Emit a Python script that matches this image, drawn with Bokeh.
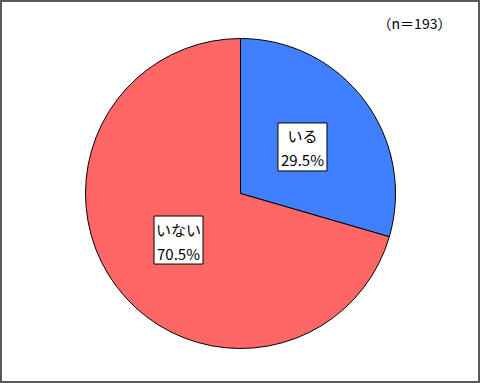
import math
from bokeh.plotting import figure
from bokeh.models import Range1d, ColumnDataSource
from bokeh.core.properties import value
from bokeh.embed import file_html
from bokeh.resources import INLINE

categories = ["いる", "いない"]
percents = [29.5, 70.5]
colors = ["#4080FF", "#FF6666"]
note = "（n＝193）"

W, H = 480, 383
cx, cy, R = 240, H - 193, 155

p = figure(width=W, height=H, output_backend="svg", toolbar_location=None,
           x_range=Range1d(0, W), y_range=Range1d(0, H), min_border=0)
p.axis.visible = False
p.grid.visible = False
p.background_fill_color = "white"
p.border_fill_color = "white"
p.outline_line_color = "#5a5a5a"
p.outline_line_width = 3

starts, ends, lx, ly, texts1, texts2 = [], [], [], [], [], []
a = math.pi / 2
for c, v in zip(categories, percents):
    span = v / 100 * 2 * math.pi
    starts.append(a)
    ends.append(a - span)
    mid = a - span / 2
    lx.append(cx + 0.5 * R * math.cos(mid))
    ly.append(cy + 0.5 * R * math.sin(mid))
    texts1.append(c)
    texts2.append(f"{v:.1f}%")
    a -= span

src = ColumnDataSource(dict(start=starts, end=ends, color=colors,
                            lx=lx, ly=ly, t1=texts1, t2=texts2,
                            ly1=[y + 11 for y in ly], ly2=[y - 13 for y in ly]))
p.wedge(x=cx, y=cy, radius=R, start_angle="start", end_angle="end",
        direction="clock", fill_color="color", line_color="black",
        line_width=1, source=src)
p.rect(x="lx", y="ly", width=49, height=48, fill_color="white",
       line_color="black", line_width=1, source=src)
p.text(x="lx", y="ly1", text="t1", text_align="center", text_baseline="middle",
       text_font=value("Noto Sans CJK JP"), text_font_size="15px",
       text_color="black", source=src)
p.text(x="lx", y="ly2", text="t2", text_align="center", text_baseline="middle",
       text_font=value("Noto Sans CJK JP"), text_font_size="15px",
       text_color="black", source=src)
p.text(x=[414], y=[H - 22], text=[note], text_align="center",
       text_baseline="middle", text_font=value("Noto Sans CJK JP"),
       text_font_size="14px", text_color="black")

open("out.html", "w").write(file_html(p, INLINE))
